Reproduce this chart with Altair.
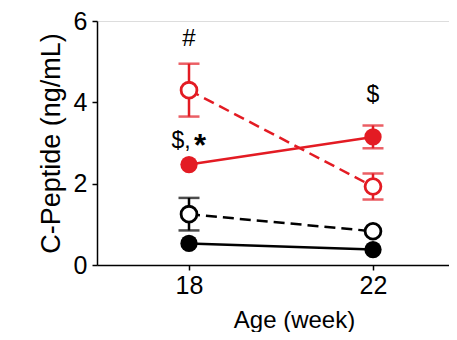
import altair as alt
import pandas as pd

weeks = [18, 22]
series_names = ["black_solid", "black_dash", "red_solid", "red_dash"]
black_solid_mean = [0.53, 0.38]
black_solid_err = [0.0, 0.0]
black_dash_mean = [1.25, 0.83]
black_dash_err = [0.40, 0.0]
red_solid_mean = [2.47, 3.15]
red_solid_err = [0.0, 0.28]
red_dash_mean = [4.30, 1.93]
red_dash_err = [0.65, 0.32]

ann_text = ["#", "$,", "*", "$"]
ann_week = [18, 18, 18, 22]
ann_y = [5.55, 3.05, 3.05, 4.18]

RED = "#e31b23"
BLACK = "#000000"

rows = []
for name, means, errs in [
    ("black_solid", black_solid_mean, black_solid_err),
    ("black_dash", black_dash_mean, black_dash_err),
    ("red_solid", red_solid_mean, red_solid_err),
    ("red_dash", red_dash_mean, red_dash_err),
]:
    for w, m, e in zip(weeks, means, errs):
        rows.append({"series": name, "week": w, "mean": m, "lo": m - e, "hi": m + e})
df = pd.DataFrame(rows)
ann = pd.DataFrame({"text": ann_text, "week": ann_week, "y": ann_y})

W, H = 352, 244
xscale = alt.Scale(domain=[16, 16 + W / 46.0], nice=False, zero=False)
yscale = alt.Scale(domain=[0, 6], nice=False)

xax = alt.Axis(values=[18, 22], title="Age (week)", grid=False, labelFontSize=25,
               titleFontSize=24, titleFontWeight="normal", labelColor="black",
               titleColor="black", domainColor="black", tickColor="black",
               domainWidth=1.5, tickWidth=1.5, tickSize=5, labelPadding=3,
               titlePadding=10, titleX=197, labelFont="Liberation Sans",
               titleFont="Liberation Sans")
yax = alt.Axis(values=[0, 2, 4, 6], title="C-Peptide (ng/mL)", grid=False,
               labelFontSize=25, titleFontSize=27, titleFontWeight="normal",
               labelColor="black", titleColor="black", domainColor="black",
               tickColor="black", domainWidth=1.5, tickWidth=1.5, tickSize=5,
               labelPadding=5, titlePadding=8, labelFont="Liberation Sans",
               titleFont="Liberation Sans")

def X(field="week"):
    return alt.X(f"{field}:Q", scale=xscale, axis=xax)

def Y(field):
    return alt.Y(f"{field}:Q", scale=yscale, axis=yax)

base = alt.Chart(df)

def sub(name):
    return base.transform_filter(alt.datum.series == name)

layers = []
style = {
    "black_solid": (BLACK, None, True),
    "black_dash": (BLACK, [11, 6], False),
    "red_solid": (RED, None, True),
    "red_dash": (RED, [11, 6], False),
}
for name in series_names:
    color, dash, filled = style[name]
    lkw = dict(color=color, strokeWidth=2.5)
    if dash:
        lkw["strokeDash"] = dash
    layers.append(sub(name).mark_line(**lkw).encode(x=X(), y=Y("mean")))

for name in series_names:
    color, dash, filled = style[name]
    s = sub(name).transform_filter(alt.datum.hi > alt.datum.lo)
    layers.append(s.mark_rule(color=color, strokeWidth=2.5).encode(
        x=X(), y=Y("lo"), y2="hi:Q"))
    layers.append(s.mark_tick(color=color, orient="horizontal", size=21, thickness=2.5).encode(
        x=X(), y=Y("lo")))
    layers.append(s.mark_tick(color=color, orient="horizontal", size=21, thickness=2.5).encode(
        x=X(), y=Y("hi")))

for name in series_names:
    color, dash, filled = style[name]
    s = sub(name)
    if filled:
        pt = s.mark_point(shape="circle", filled=True, color=color, size=300, opacity=1)
    else:
        pt = s.mark_point(shape="circle", filled=False, fill="white", fillOpacity=1,
                          color=color, stroke=color, strokeWidth=2.8, size=250, opacity=1)
    layers.append(pt.encode(x=X(), y=Y("mean")))

annb = alt.Chart(ann)
layers.append(annb.transform_filter(alt.datum.text == "#").mark_text(
    fontSize=24, font="Liberation Sans", color="black").encode(
    x=X(), y=Y("y"), text="text:N"))
layers.append(annb.transform_filter(alt.datum.text == "$,").mark_text(
    fontSize=23, font="Liberation Sans", color="black", dx=-8).encode(
    x=X(), y=Y("y"), text="text:N"))
layers.append(annb.transform_filter(alt.datum.text == "*").mark_text(
    fontSize=31, font="Liberation Sans", fontWeight="bold", color="black", dx=11, dy=6).encode(
    x=X(), y=Y("y"), text="text:N"))
layers.append(annb.transform_filter(alt.datum.text == "$").mark_text(
    fontSize=23, font="Liberation Sans", color="black").encode(
    x=X(), y=Y("y"), text="text:N"))

chart = alt.layer(*layers).properties(
    width=W, height=H,
    autosize=alt.AutoSizeParams(type="none"),
    padding={"left": 89, "top": 13, "right": 0, "bottom": 67},
).configure_view(strokeWidth=0).configure(background="white")

chart.save("out.html", embed_options={"renderer": "svg", "actions": False})
